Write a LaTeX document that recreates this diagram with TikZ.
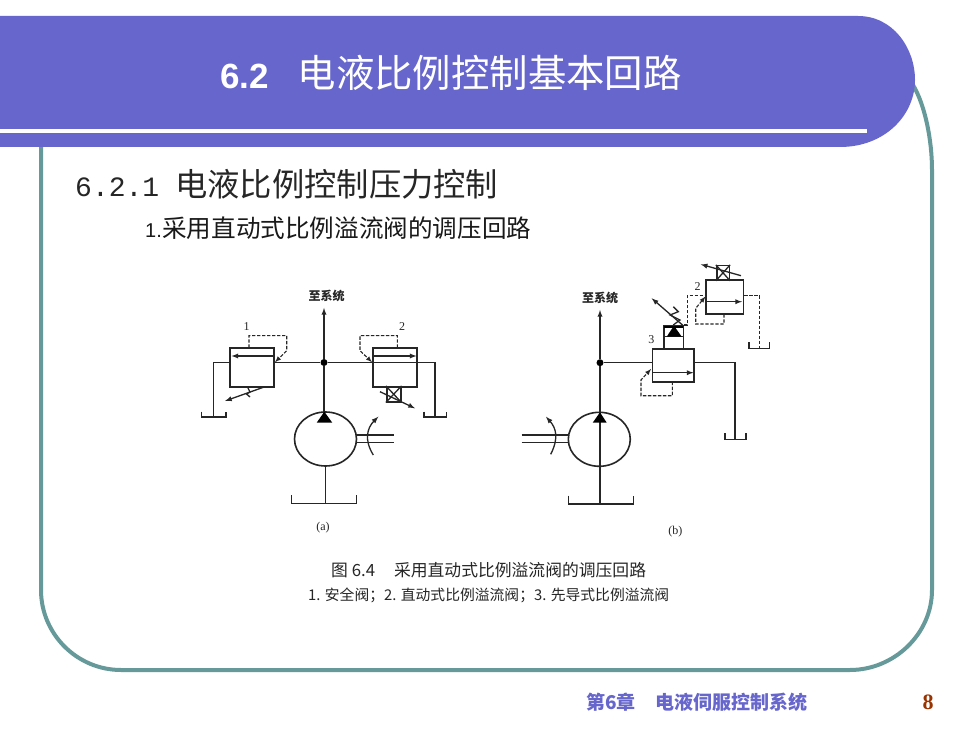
\documentclass[tikz,border=0pt]{standalone}
\usepackage{fontspec}
\usepackage{tikz}
\usetikzlibrary{shapes.geometric}
\setmainfont{Liberation Sans}
\newfontfamily\cjk{Noto Sans CJK SC}
\newfontfamily\serifnum{Liberation Serif}
\newfontfamily\mononum{Liberation Mono}
\definecolor{bannerblue}{HTML}{6666CC}
\definecolor{borderteal}{HTML}{669999}
\definecolor{pagered}{HTML}{993300}
\tikzset{
  pipe/.style={line width=1.3pt,black!85,>=latex},
  pilot/.style={line width=1.1pt,black!85,>=latex,dash pattern=on 3.4pt off 1.6pt},
  valve/.style={draw,line width=1.7pt,black!85,rectangle,inner sep=0pt},
  pump/.style={draw,line width=1.6pt,black!85,ellipse,inner sep=0pt,minimum width=62pt,minimum height=54pt},
  dotnode/.style={fill=black,circle,inner sep=0pt,minimum size=7pt},
  small/.style={inner sep=0pt,font=\fontsize{12}{12}\selectfont\cjk\bfseries,black!85},
  mark label/.style={inner sep=0pt,font=\fontsize{12}{12}\selectfont\serifnum,black!85},
}
\begin{document}
\begin{tikzpicture}[x=1pt,y=-1pt]
  \useasboundingbox (0,0) rectangle (980,735);
  \fill[white] (0,0) rectangle (980,735);
  % frame and banner
  \draw[borderteal,line width=4pt] (41,147) -- (41,590) .. controls (41,634) and (77,670) .. (121,670)
    -- (850,670) .. controls (894,670) and (932,634) .. (932,590) -- (932,170) .. controls (932,140) and (925,105) .. (913,85);
  \fill[bannerblue] (0,16) -- (858,16) .. controls (893,16) and (915,48) .. (915,80)
    .. controls (915,115) and (885,147) .. (840,147) -- (0,147) -- cycle;
  \fill[white] (0,128.7) rectangle (867,132.7);
  % texts
  \node[inner sep=0pt,white,anchor=base west] (titlenum) at (220,88.5) {\fontsize{35}{35}\selectfont\bfseries 6.2};
  \node[inner sep=0pt,white,anchor=base west] (titletext) at (297.5,88) {\fontsize{38.4}{38.4}\selectfont\cjk 电液比例控制基本回路};
  \node[inner sep=0pt,anchor=base west,black!85] (secnum) at (75,197) {\fontsize{28}{28}\selectfont\mononum 6.2.1};
  \node[inner sep=0pt,anchor=base west,black!85] (sectext) at (175,197) {\fontsize{32.3}{32.3}\selectfont\cjk 电液比例控制压力控制};
  \node[inner sep=0pt,anchor=base west,black!90] (subnum) at (145,238) {\fontsize{20}{20}\selectfont 1.};
  \node[inner sep=0pt,anchor=base west,black!90] (subtext) at (162,238) {\fontsize{24.6}{24.6}\selectfont\cjk 采用直动式比例溢流阀的调压回路};
  \node[inner sep=0pt,anchor=base west,bannerblue] (foot) at (586,709) {\fontsize{19}{19}\selectfont\cjk\bfseries 第6章\hspace{20pt}电液伺服控制系统};
  \node[inner sep=0pt,pagered] (pagenum) at (928,702) {\fontsize{22}{22}\selectfont\bfseries\serifnum 8};
  \node[inner sep=0pt,black!85,anchor=base west] (figcap) at (331,576) {\fontsize{16.8}{16.8}\selectfont\cjk 图 6.4\hspace{19pt}采用直动式比例溢流阀的调压回路};
  \node[inner sep=0pt,black!85,anchor=base west] (figsub) at (308,600) {\fontsize{14.8}{14.8}\selectfont\cjk 1. 安全阀；2. 直动式比例溢流阀；3. 先导式比例溢流阀};
  % circuit (a)
  \node[small] (sysA) at (326.5,296) {至系统};
  \node[mark label] (capA) at (323,528) {(a)};
  \node[mark label] (numAone) at (246.5,327) {1};
  \node[mark label] (numAtwo) at (402,327) {2};
  \node[dotnode] (junctionA) at (324,362.5) {};
  \node[pump] (pumpA) at (325.5,439) {};
  \node[valve,minimum width=44pt,minimum height=39pt] (valveAone) at (252,367.2) {};
  \node[valve,minimum width=44.6pt,minimum height=39pt] (valveAtwo) at (395,367.2) {};
  \node[draw,line width=1.6pt,black!85,inner sep=0pt,minimum width=14pt,minimum height=15pt] (coilA) at (393.7,394.2) {};
  \draw[pipe,->] (junctionA) -- (324,308);
  \draw[pipe] (junctionA) -- (junctionA |- 0,412);
  \fill[black] (316.7,422.7) -- (332.3,422.7) -- (324.3,411.7) -- cycle;
  \draw[pipe] (pumpA.south) -- (pumpA.south |- 0,503.5) (291.7,495) -- (291.7,503.5) -- (356.7,503.5) -- (356.7,495);
  \draw[pipe] (junctionA) -- (junctionA -| valveAone.east) (junctionA) -- (junctionA -| valveAtwo.west);
  \draw[pipe] (valveAone.west |- junctionA) -- (213.3,362.5) -- (213.3,417) (201.7,411.5) -- (201.7,417) -- (226,417) -- (226,411.5);
  \draw[pipe] (valveAtwo.east |- junctionA) -- (435,362.5) -- (435,417) (424,411.5) -- (424,417) -- (446.7,417) -- (446.7,411.5);
  \draw[pipe] (valveAtwo.west |- junctionA) -- (valveAtwo.east |- junctionA);
  \draw[pipe,->] (273.5,356) -- (231.5,356);
  \draw[pipe,->] (373.5,356) -- (416.5,356);
  \draw[pilot,->] (249,347.7) -- (249,335.7) -- (286.7,335.7) -- (286.7,350.7) -- (275,362.2);
  \draw[pilot,->] (397.3,347.7) -- (397.3,335.7) -- (360,335.7) -- (360,350.7) -- (372,362.2);
  \draw[pipe,->] (263.3,387.3) -- (225,401);
  \draw[pipe] (247.5,387) -- (250,392) -- (246.5,394) -- (250,397);
  \draw[pipe,->] (380,391.7) -- (415,408.3);
  \draw[pipe] (coilA.north west) -- (coilA.south east) (coilA.north east) -- (coilA.south west);
  \draw[pipe] (357,435) -- (393.5,435) (357,442.7) -- (393.5,442.7);
  \draw[pipe,->] (373.3,455) .. controls (364,440) and (367,428) .. (378.3,416.7);
  % circuit (b)
  \node[small] (sysB) at (600,297.7) {至系统};
  \node[mark label] (capB) at (675.3,531.7) {(b)};
  \node[mark label] (numBtwo) at (697.7,286.7) {2};
  \node[mark label] (numBthree) at (651.3,339.7) {3};
  \node[dotnode] (junctionB) at (600,362.7) {};
  \node[pump] (pumpB) at (599.3,439.3) {};
  \node[valve,minimum width=41.7pt,minimum height=32.7pt] (valveBthree) at (673.2,365.4) {};
  \node[valve,minimum width=37.3pt,minimum height=34.3pt] (valveBtwo) at (724.7,297.2) {};
  \node[draw,line width=1.3pt,black!85,inner sep=0pt,minimum width=19.3pt,minimum height=23.3pt] (pilotB) at (673.7,337.4) {};
  \node[draw,line width=1.6pt,black!85,inner sep=0pt,minimum width=12.6pt,minimum height=14.3pt] (coilB) at (723,272.8) {};
  \draw[pipe,->] (junctionB) -- (junctionB |- 0,310);
  \draw[pipe] (junctionB) -- (junctionB |- 0,504);
  \fill[black] (592.7,422.7) -- (606.7,422.7) -- (600,412.3) -- cycle;
  \draw[pipe] (568.3,495.7) -- (568.3,504) -- (633.3,504) -- (633.3,495.7);
  \draw[pipe] (521.7,435) -- (pumpB.west |- 0,435) (521.7,442.7) -- (pumpB.west |- 0,442.7);
  \draw[pipe,->] (550.7,454.3) .. controls (559,438) and (556,428) .. (546,416.7);
  \draw[pipe] (junctionB) -- (junctionB -| valveBthree.west);
  \draw[pipe] (valveBthree.east |- junctionB) -- (735,362.7) -- (735,439.3) (725,433.3) -- (725,439.3) -- (746,439.3) -- (746,433.3);
  \draw[pipe,->] (653.3,372.7) -- (693.5,372.7);
  \draw[pilot,->] (672.3,381.7) -- (672.3,395.7) -- (641,395.7) -- (641,380) -- (651,369);
  \fill[black] (664,325.7) rectangle (683.3,328);
  \draw[line width=1.6pt,black!85] (664,336.7) -- (683.3,336.7);
  \fill[black] (666.7,336.7) -- (681.7,336.7) -- (674,325.7) -- cycle;
  \draw[pipe] (673.3,306.7) -- (678.3,311.7) -- (670,315) -- (680,320) -- (673.3,325);
  \draw[pipe,->] (683.3,325.7) -- (651.7,298.3);
  \draw[pilot] (684,325) -- (687.3,325) -- (687.3,295.7) -- (valveBtwo.west |- 0,295.7);
  \draw[pipe,->] (706.7,301.7) -- (742,301.7);
  \draw[pilot,->] (724,314.3) -- (724,324) -- (695.7,324) -- (695.7,308.3) -- (705.5,296.5);
  \draw[pilot] (valveBtwo.east |- 0,295.7) -- (759.3,295.7) -- (759.3,348.3);
  \draw[pipe] (749,342.3) -- (749,348.3) -- (769.3,348.3) -- (769.3,342.3);
  \draw[pipe] (coilB.north west) -- (coilB.south east) (coilB.north east) -- (coilB.south west);
  \draw[pipe,->] (741,275.7) -- (700.7,264.3);
\end{tikzpicture}
\end{document}
